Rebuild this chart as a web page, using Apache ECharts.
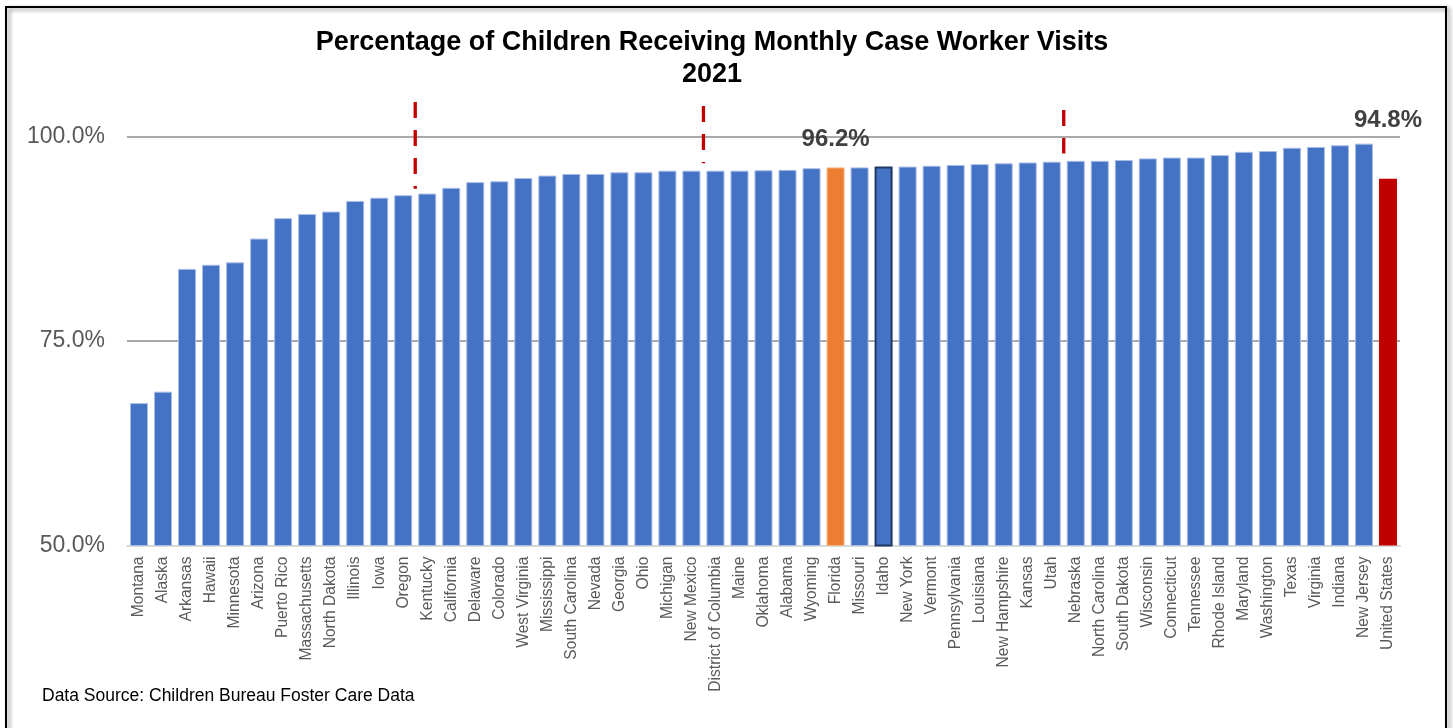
<!DOCTYPE html>
<html>
<head>
<meta charset="utf-8">
<script src="https://cdn.jsdelivr.net/npm/echarts@6/dist/echarts.min.js"></script>
<style>html,body{margin:0;padding:0;background:#fff;}#chart{width:1453px;height:728px;}</style>
</head>
<body>
<div id="chart"></div>
<script>
var categories = ["Montana","Alaska","Arkansas","Hawaii","Minnesota","Arizona","Puerto Rico","Massachusetts","North Dakota","Illinois","Iowa","Oregon","Kentucky","California","Delaware","Colorado","West Virginia","Mississippi","South Carolina","Nevada","Georgia","Ohio","Michigan","New Mexico","District of Columbia","Maine","Oklahoma","Alabama","Wyoming","Florida","Missouri","Idaho","New York","Vermont","Pennsylvania","Louisiana","New Hampshire","Kansas","Utah","Nebraska","North Carolina","South Dakota","Wisconsin","Connecticut","Tennessee","Rhode Island","Maryland","Washington","Texas","Virginia","Indiana","New Jersey","United States"];
var values = [67.4,68.8,83.8,84.3,84.6,87.5,90.0,90.5,90.8,92.1,92.5,92.8,93.0,93.7,94.4,94.5,94.9,95.2,95.4,95.4,95.6,95.6,95.8,95.8,95.8,95.8,95.85,95.9,96.1,96.2,96.2,96.3,96.3,96.4,96.5,96.6,96.7,96.8,96.9,97.0,97.0,97.1,97.3,97.4,97.4,97.7,98.1,98.2,98.6,98.7,98.9,99.1,94.8];
var yTicks = [50, 75, 100];
var dividerPositions = [11.5, 23.5, 38.5];
var dividerTops = [104.2, 103.7, 103.2];
var dividerBottoms = [93.6, 96.7, 97.9];
var labeledBars = ["Florida", "United States"];

var BLUE = '#4472C4', ORANGE = '#ED7D31', RED = '#C00000';
var FONT = 'Liberation Sans, Arial, sans-serif';
var barData = categories.map(function (c, i) {
  var item = { value: values[i], itemStyle: { color: BLUE, borderColor: '#a8bce6', borderWidth: 1 } };
  if (c === 'Florida') item.itemStyle = { color: ORANGE, borderColor: '#f5b58a', borderWidth: 1 };
  if (c === 'United States') item.itemStyle = { color: RED, borderColor: RED, borderWidth: 0 };
  if (c === 'Idaho') item.itemStyle = { color: BLUE, borderColor: '#1F3864', borderWidth: 2 };
  if (labeledBars.indexOf(c) >= 0) {
    item.label = {
      show: true, position: 'top', distance: c === 'Florida' ? 16 : 46,
      formatter: function (p) { return p.value.toFixed(1) + '%'; },
      fontSize: 24, fontWeight: 'bold', color: '#404040', fontFamily: FONT
    };
  }
  return item;
});

var dividerSeries = dividerPositions.map(function (x, i) {
  return {
    type: 'line', xAxisIndex: 1, yAxisIndex: 0, clip: false, symbol: 'none', silent: true, z: 5,
    lineStyle: { color: RED, width: 3.3, type: [16, 12] },
    data: [[x, dividerTops[i]], [x, dividerBottoms[i]]]
  };
});

var chart = echarts.init(document.getElementById('chart'));
chart.setOption({
  animation: false,
  backgroundColor: '#fff',
  title: {
    text: 'Percentage of Children Receiving Monthly Case Worker Visits\n2021',
    left: 707, top: 22, textAlign: 'center',
    textStyle: { fontSize: 27, fontWeight: 'bold', color: '#000', lineHeight: 32, fontFamily: FONT }
  },
  grid: { left: 127, right: 53, top: 136.3, bottom: 182.5, containLabel: false },
  xAxis: [{
    type: 'category', data: categories,
    axisLine: { show: true, lineStyle: { color: '#d9d9d9', width: 2 } },
    axisTick: { show: false },
    axisLabel: { interval: 0, rotate: 90, fontSize: 15.6, color: '#595959', margin: 11, fontFamily: FONT }
  }, {
    type: 'value', min: -0.5, max: 52.5, show: false
  }],
  yAxis: {
    type: 'value', min: 50, max: 100, interval: 25,
    axisLine: { show: false }, axisTick: { show: false },
    axisLabel: { fontSize: 23, color: '#595959', margin: 22, fontFamily: FONT,
      formatter: function (v) { return yTicks.indexOf(v) >= 0 ? v.toFixed(1) + '%' : ''; } },
    splitLine: { lineStyle: { color: ['#d9d9d9', '#8c8c8c', '#8c8c8c'], width: 1.5 } }
  },
  series: [{
    type: 'bar', data: barData, barWidth: '75%', z: 2
  }].concat(dividerSeries),
  graphic: [{
    type: 'rect', shape: { x: 6, y: 7, width: 1440, height: 740 }, silent: true, z: 100,
    style: { fill: 'none', stroke: '#000', lineWidth: 2, shadowBlur: 4, shadowOffsetX: 3, shadowOffsetY: 2, shadowColor: 'rgba(0,0,0,0.45)' }
  }, {
    type: 'text', left: 42, top: 687, silent: true,
    style: { text: 'Data Source: Children Bureau Foster Care Data', fontSize: 17.5, fill: '#000', fontFamily: FONT }
  }]
});
</script>
</body>
</html>
